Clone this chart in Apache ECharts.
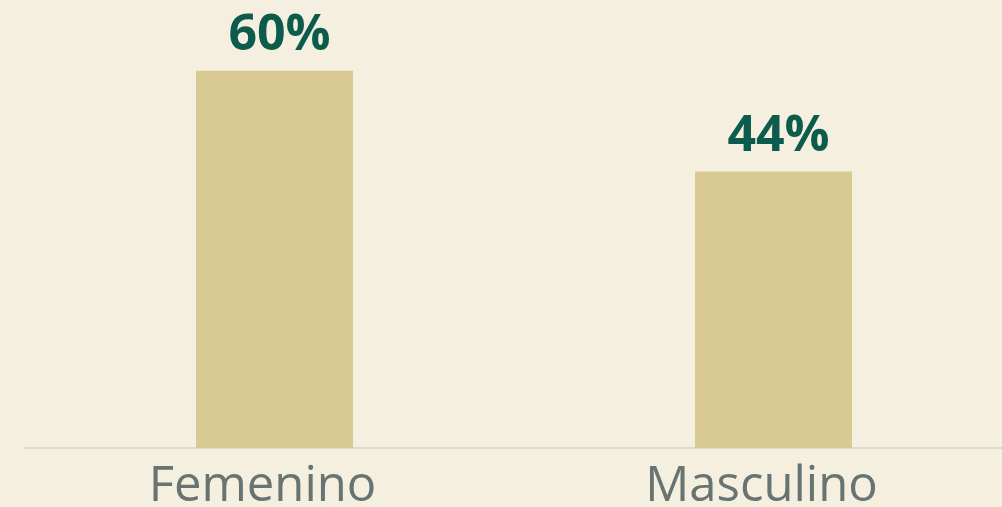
<!DOCTYPE html>
<html>
<head>
<meta charset="utf-8">
<style>
  html, body { margin: 0; padding: 0; background: #F5EFE0; }
  #chart { width: 1002px; height: 507px; }
</style>
<script src="https://cdn.jsdelivr.net/npm/echarts@6/dist/echarts.min.js"></script>
</head>
<body>
<div id="chart"></div>
<script>
// Share by sex (percent)
const categories = ['Femenino', 'Masculino'];
const values = [60, 44];

const chart = echarts.init(document.getElementById('chart'), null, { renderer: 'canvas' });

chart.setOption({
  backgroundColor: '#F5EFE0',
  animation: false,
  grid: { left: 25, width: 998, top: 8, bottom: 59, outerBoundsMode: 'none', containLabel: false },
  xAxis: {
    type: 'category',
    data: categories,
    axisLine: { lineStyle: { color: '#D9DAD5', width: 2 } },
    axisTick: { show: false },
    axisLabel: {
      color: '#677471',
      fontFamily: 'Open Sans',
      fontSize: 49,
      margin: 15,
      padding: [0, 24, 0, 0]
    }
  },
  yAxis: {
    type: 'value',
    min: 0,
    max: 70,
    show: false,
    splitLine: { show: false }
  },
  series: [{
    type: 'bar',
    data: values,
    barWidth: 157,
    itemStyle: { color: '#D8CA92' },
    label: {
      show: true,
      position: 'top',
      distance: 10,
      offset: [5, 0],
      formatter: '{c}%',
      color: '#0B5C4C',
      fontFamily: 'Open Sans',
      fontWeight: 'bold',
      fontSize: 50
    }
  }]
});
</script>
</body>
</html>
